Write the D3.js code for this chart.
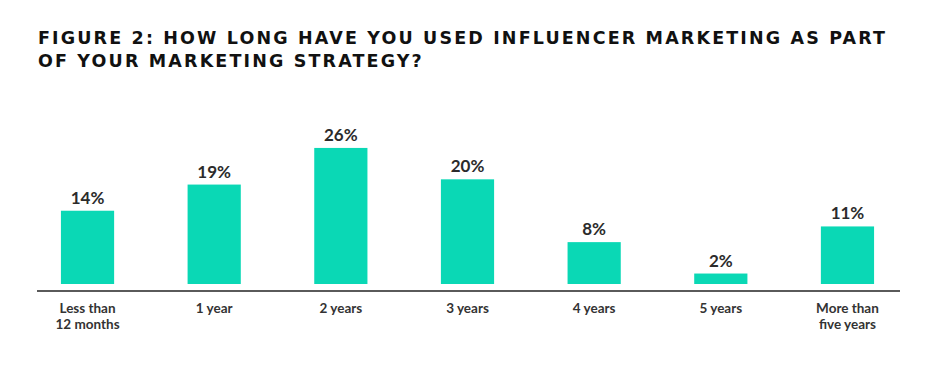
<!DOCTYPE html>
<html>
<head>
<meta charset="utf-8">
<script src="https://cdn.jsdelivr.net/npm/d3@7"></script>
<style>
  body { margin: 0; background: #fff; }
  svg { display: block; }
</style>
</head>
<body>
<div id="chart"></div>
<script>
const titleLines = ["FIGURE 2: HOW LONG HAVE YOU USED INFLUENCER MARKETING AS PART",
                    "OF YOUR MARKETING STRATEGY?"];
const categories = ["Less than\n12 months", "1 year", "2 years", "3 years", "4 years", "5 years", "More than\nfive years"];
const values = [14, 19, 26, 20, 8, 2, 11];

const width = 946, height = 387;
const svg = d3.select("#chart").append("svg")
    .attr("width", width)
    .attr("height", height);

// title, stretched with letter spacing to the reference width
const title = svg.append("g").attr("font-family", "'DejaVu Sans', sans-serif")
    .attr("font-weight", 700).attr("font-size", 17.5).attr("fill", "#111");
const t1 = title.append("text").attr("x", 38).attr("y", 44).text(titleLines[0]);
const natural = t1.node().getComputedTextLength();
const ls = (847 - natural) / (titleLines[0].length - 1);
t1.attr("letter-spacing", ls);
title.append("text").attr("x", 38).attr("y", 67).attr("letter-spacing", ls).text(titleLines[1]);

const x = d3.scaleBand()
    .domain(categories)
    .range([24.2, 910.8])
    .paddingInner(0.58)
    .paddingOuter(0.29);

const y = d3.scaleLinear()
    .domain([0, 30])
    .range([284, 127]);

const g = svg.append("g");

g.selectAll("rect").data(values).enter().append("rect")
    .attr("x", (d, i) => x(categories[i]))
    .attr("y", d => y(d))
    .attr("width", x.bandwidth())
    .attr("height", d => y(0) - y(d))
    .attr("fill", "#0ad8b5");

g.selectAll(".val").data(values).enter().append("text")
    .attr("class", "val")
    .attr("x", (d, i) => x(categories[i]) + x.bandwidth() / 2)
    .attr("y", d => y(d) - 7)
    .attr("text-anchor", "middle")
    .attr("font-family", "Lato, sans-serif")
    .attr("font-weight", 700)
    .attr("font-size", 17)
    .attr("fill", "#2b2b2b")
    .text(d => d + "%");

// baseline
svg.append("line")
    .attr("x1", 37).attr("x2", 900)
    .attr("y1", 291).attr("y2", 291)
    .attr("stroke", "#5a5a5a")
    .attr("stroke-width", 2);

// category labels through the axis
const axis = svg.append("g")
    .attr("transform", "translate(0,292)")
    .call(d3.axisBottom(x).tickSize(0).tickPadding(0));
axis.select(".domain").remove();
axis.selectAll(".tick text")
    .attr("font-family", "Lato, sans-serif")
    .attr("font-weight", 700)
    .attr("font-size", 13.5)
    .attr("fill", "#333")
    .attr("dy", null)
    .attr("y", 0)
    .text(null)
    .each(function(d) {
        const t = d3.select(this);
        d.split("\n").forEach((line, i) => {
            t.append("tspan").attr("x", 0).attr("y", 21 + i * 16).text(line);
        });
    });
</script>
</body>
</html>
